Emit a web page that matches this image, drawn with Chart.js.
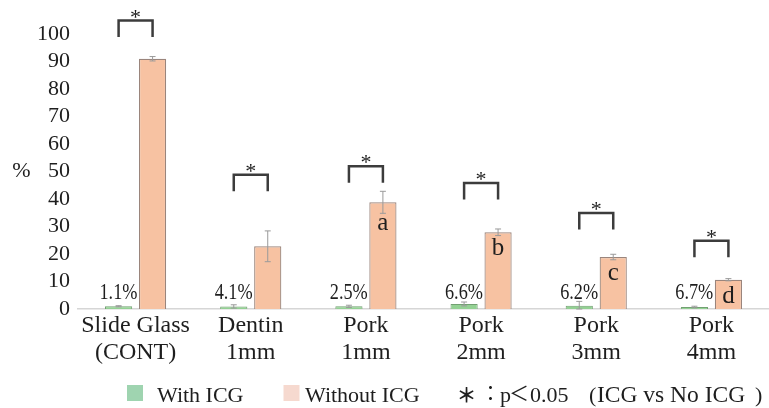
<!DOCTYPE html>
<html>
<head>
<meta charset="utf-8">
<script src="https://cdn.jsdelivr.net/npm/chart.js@4.4.0/dist/chart.umd.min.js"></script>
<style>
  html, body { margin: 0; padding: 0; background: #ffffff; }
  #wrap { width: 769px; height: 408px; position: relative; }
</style>
</head>
<body>
<div id="wrap"><canvas id="chart" width="769" height="408"></canvas></div>
<script>
// Sample groups (two-line category labels)
const categories = [
  ["Slide Glass", "(CONT)"],
  ["Dentin", "1mm"],
  ["Pork", "1mm"],
  ["Pork", "2mm"],
  ["Pork", "3mm"],
  ["Pork", "4mm"]
];

// Mean values (%) and their error (±)
const withICG       = [1.0, 0.93, 0.97, 1.84, 1.17, 0.71];
const withICGErr    = [0.2, 0.6, 0.4, 0.7, 1.6, 0.3];
const withoutICG    = [91.0, 22.8, 38.8, 27.9, 18.9, 10.65];
const withoutICGErr = [0.8, 5.6, 4.0, 1.2, 1.0, 0.4];

// With/Without ratio shown beside each pair
const ratioLabels = ["1.1%", "4.1%", "2.5%", "6.6%", "6.2%", "6.7%"];
// Group letters printed inside the Without-ICG bars
const groupLetters = ["", "", "a", "b", "c", "d"];
// Height (in %) of each significance bracket
const bracketLevels = [104.9, 48.8, 51.9, 45.8, 34.9, 24.8];

// Y axis ticks
const yMin = 0, yMax = 100, yStep = 10;

const SERIF = "'Liberation Serif', 'DejaVu Serif', serif";
const CJK = "'Noto Sans CJK JP', 'Noto Sans', sans-serif";
const INK = "#1e1e1e";

Chart.defaults.font.family = SERIF;
Chart.defaults.color = INK;

// Error bars for both datasets
const errorBars = {
  id: "errorBars",
  afterDatasetsDraw(chart) {
    const { ctx } = chart;
    const y = chart.scales.y;
    const errs = [withICGErr, withoutICGErr];
    const vals = [withICG, withoutICG];
    ctx.save();
    ctx.strokeStyle = "#9a9a9a";
    ctx.lineWidth = 1;
    chart.data.datasets.forEach((ds, d) => {
      chart.getDatasetMeta(d).data.forEach((el, i) => {
        const top = y.getPixelForValue(vals[d][i] + errs[d][i]);
        const bot = y.getPixelForValue(Math.max(0, vals[d][i] - errs[d][i]));
        ctx.beginPath();
        ctx.moveTo(el.x, top); ctx.lineTo(el.x, bot);
        ctx.moveTo(el.x - 3, top); ctx.lineTo(el.x + 3, top);
        ctx.moveTo(el.x - 3, bot); ctx.lineTo(el.x + 3, bot);
        ctx.stroke();
      });
    });
    ctx.restore();
  }
};

// Brackets, ratio labels, group letters, axis unit and legend
const annotations = {
  id: "annotations",
  afterDraw(chart) {
    const { ctx } = chart;
    const y = chart.scales.y;
    const m0 = chart.getDatasetMeta(0).data;
    const m1 = chart.getDatasetMeta(1).data;
    const zero = y.getPixelForValue(0);
    ctx.save();
    ctx.fillStyle = INK;

    // significance brackets with asterisk
    m0.forEach((g, i) => {
      const o = m1[i];
      const top = y.getPixelForValue(bracketLevels[i]);
      ctx.strokeStyle = "#3c3c3c";
      ctx.lineWidth = 2.5;
      ctx.lineCap = "butt";
      ctx.lineJoin = "miter";
      ctx.beginPath();
      ctx.moveTo(g.x, top + 16.5);
      ctx.lineTo(g.x, top);
      ctx.lineTo(o.x, top);
      ctx.lineTo(o.x, top + 16.5);
      ctx.stroke();
      ctx.font = "22px " + SERIF;
      ctx.textAlign = "center";
      ctx.textBaseline = "alphabetic";
      ctx.fillText("*", (g.x + o.x) / 2, top + 3);
    });

    // ratio labels (condensed serif) left of the orange bars
    ctx.font = "24px " + SERIF;
    ctx.textAlign = "right";
    ctx.textBaseline = "alphabetic";
    m1.forEach((o, i) => {
      ctx.save();
      ctx.translate(o.x - o.width / 2 - 1.5, zero - 10);
      ctx.scale(0.76, 1);
      ctx.fillText(ratioLabels[i], 0, 0);
      ctx.restore();
    });

    // group letters inside the orange bars
    ctx.font = "25px " + SERIF;
    ctx.textAlign = "center";
    m1.forEach((o, i) => {
      if (!groupLetters[i]) return;
      const h = o.base - o.y;
      ctx.fillText(groupLetters[i], o.x, o.y + (h > 80 ? 28 : 23));
    });

    // unit beside the y axis
    ctx.font = "22px " + SERIF;
    ctx.textAlign = "center";
    ctx.textBaseline = "middle";
    ctx.fillText("%", 21.5, y.getPixelForValue(50));

    // legend
    const ly = 401.5;
    ctx.fillStyle = "#9fd4b0";
    ctx.fillRect(127, 385, 16, 16);
    ctx.fillStyle = "#f6d9cf";
    ctx.fillRect(283.5, 385, 16, 16);
    ctx.fillStyle = INK;
    ctx.font = "22px " + SERIF;
    ctx.textAlign = "left";
    ctx.textBaseline = "alphabetic";
    ctx.fillText("With ICG", 157, ly);
    ctx.fillText("Without ICG", 305, ly);
    ctx.font = "bold 20px " + CJK;
    ctx.textAlign = "center";
    ctx.fillText("＊", 466.5, ly + 1);
    ctx.font = "20px " + CJK;
    ctx.fillText("：", 490.5, ly - 1);
    ctx.font = "22px " + SERIF;
    ctx.textAlign = "left";
    ctx.fillText("p", 500, ly);
    ctx.font = "20px " + CJK;
    ctx.fillText("＜", 509, ly - 1);
    ctx.font = "22px " + SERIF;
    ctx.fillText("0.05", 530, ly);
    ctx.fillText("(", 589, ly);
    ctx.font = "23.5px " + SERIF;
    ctx.fillText("ICG vs No ICG", 597, ly);
    ctx.font = "22px " + SERIF;
    ctx.fillText(")", 755, ly);
    ctx.restore();
  }
};

new Chart(document.getElementById("chart"), {
  type: "bar",
  data: {
    labels: categories,
    datasets: [
      {
        label: "With ICG",
        data: withICG,
        backgroundColor: "#93d193",
        borderColor: "#72a072",
        borderWidth: 1
      },
      {
        label: "Without ICG",
        data: withoutICG,
        backgroundColor: "#f7c2a2",
        borderColor: "#9a857c",
        borderWidth: 1.2
      }
    ]
  },
  options: {
    responsive: false,
    devicePixelRatio: 1,
    animation: false,
    categoryPercentage: 0.59,
    barPercentage: 0.8,
    layout: { padding: { top: 34, right: 0, bottom: 0, left: 0 } },
    plugins: {
      legend: { display: false },
      tooltip: { enabled: false }
    },
    scales: {
      x: {
        grid: { display: false, drawTicks: false },
        border: { display: true, color: "#d6d6d6", width: 1.5 },
        ticks: {
          color: INK,
          padding: 4,
          maxRotation: 0,
          autoSkip: false,
          font: { family: SERIF, size: 24, lineHeight: 1.1 }
        },
        afterFit(scale) { scale.height = 99; }
      },
      y: {
        min: yMin,
        max: yMax,
        grid: { display: false, drawTicks: false },
        border: { display: false },
        ticks: {
          stepSize: yStep,
          autoSkip: false,
          maxTicksLimit: 20,
          color: INK,
          padding: 8,
          font: { family: SERIF, size: 22, lineHeight: 1 }
        },
        afterFit(scale) { scale.width = 78; }
      }
    }
  },
  plugins: [errorBars, annotations]
});
</script>
</body>
</html>
